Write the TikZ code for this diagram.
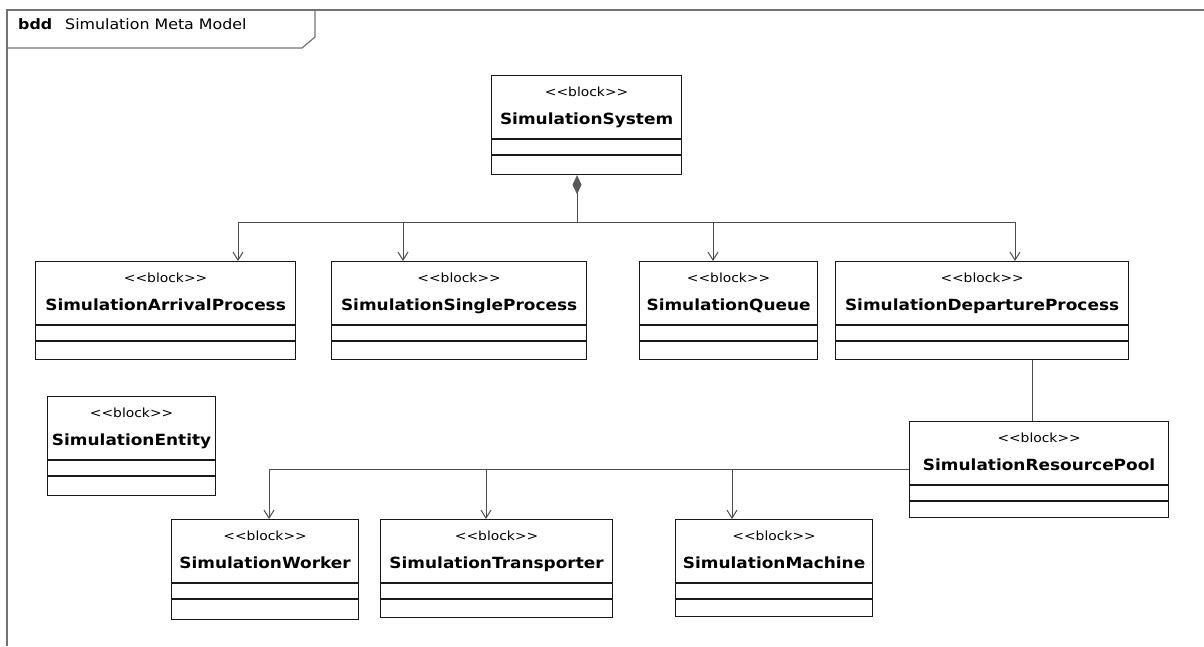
\documentclass[tikz,border=0pt]{standalone}
\usepackage{fontspec}
\setmainfont{DejaVu Sans}
\newfontfamily\umlfont[FakeStretch=1.1]{DejaVu Sans}
\usetikzlibrary{arrows.meta}

\tikzset{
  frame/.style={draw=black!55, line width=1.2pt},
  blk/.style={draw=black!90, line width=1.2pt, fill=white, inner sep=0pt},
  stereo/.style={font=\umlfont\fontsize{12.6}{13}\selectfont, inner sep=0pt},
  bname/.style={font=\umlfont\bfseries\fontsize{15.4}{17}\selectfont, inner sep=0pt},
  conn/.style={draw=black!70, line width=1pt},
  assoc/.style={conn, -{Straight Barb[length=8pt, width=10pt, line width=1pt]}},
  comp/.style={conn, {Diamond[length=19pt, width=9pt, color=black!65, fill=black!65]}-},
}

% block: id, name, left, top, width, height
\newcommand{\block}[6]{%
  \node[blk, minimum width=#5pt, minimum height=#6pt, anchor=north west] (#1) at (#3,#4) {};
  \node[stereo, anchor=base] (#1-st) at ([yshift=-21pt]#1.north) {<{}<block>{}>};
  \node[bname, anchor=base] (#1-nm) at ([yshift=-49pt]#1.north) {#2};
  \draw[blk] ([yshift=-64pt]#1.north west) -- ([yshift=-64pt]#1.north east);
  \draw[blk] ([yshift=-80pt]#1.north west) -- ([yshift=-80pt]#1.north east);
}

\begin{document}
\begin{tikzpicture}[x=1pt, y=-1pt]
\useasboundingbox (0,0) rectangle (1204,646);

% frame
\draw[frame] (1204,10) -- (7,10) -- (7,646);
\draw[frame] (7,48) -- (302,48) -- (315,37) -- (315,10);
\node[anchor=base west, font=\umlfont\bfseries\fontsize{14.4}{15}\selectfont, inner sep=0pt] (kind) at (18,29) {bdd};
\node[anchor=base west, font=\umlfont\fontsize{14.4}{15}\selectfont, inner sep=0pt] (title) at (65,29) {Simulation Meta Model};

% blocks
\block{sys}{SimulationSystem}{491}{75}{190}{99}
\block{arrival}{SimulationArrivalProcess}{35}{261}{260}{98}
\block{single}{SimulationSingleProcess}{331}{261}{255}{98}
\block{queue}{SimulationQueue}{639}{261}{178}{98}
\block{depart}{SimulationDepartureProcess}{835}{261}{293}{98}
\block{entity}{SimulationEntity}{47}{396}{168}{99}
\block{pool}{SimulationResourcePool}{909}{421}{259}{96}
\block{worker}{SimulationWorker}{171}{519}{187}{100}
\block{trans}{SimulationTransporter}{380}{519}{232}{98}
\block{machine}{SimulationMachine}{675}{519}{197}{97}

% composition
\coordinate (j0) at (577,222);
\coordinate (b1) at (238,222);
\coordinate (b2) at (403,222);
\coordinate (b3) at (713,222);
\coordinate (b4) at (1015,222);
\draw[comp] (sys.south -| j0) -- (j0);
\draw[conn] (b1) -- (b4);
\foreach \p/\n in {b1/arrival,b2/single,b3/queue,b4/depart}
  \draw[assoc] (\p) -- (\p |- \n.north);

% resource pool
\draw[conn] ([xshift=50.5pt]depart.south) -- ([xshift=50.5pt]depart.south |- pool.north);
\coordinate (c1) at (269,469);
\coordinate (c2) at (486,469);
\coordinate (c3) at (732,469);
\draw[conn] (c1) -- (c1 -| pool.west);
\foreach \p/\n in {c1/worker,c2/trans,c3/machine}
  \draw[assoc] (\p) -- (\p |- \n.north);
\end{tikzpicture}
\end{document}
